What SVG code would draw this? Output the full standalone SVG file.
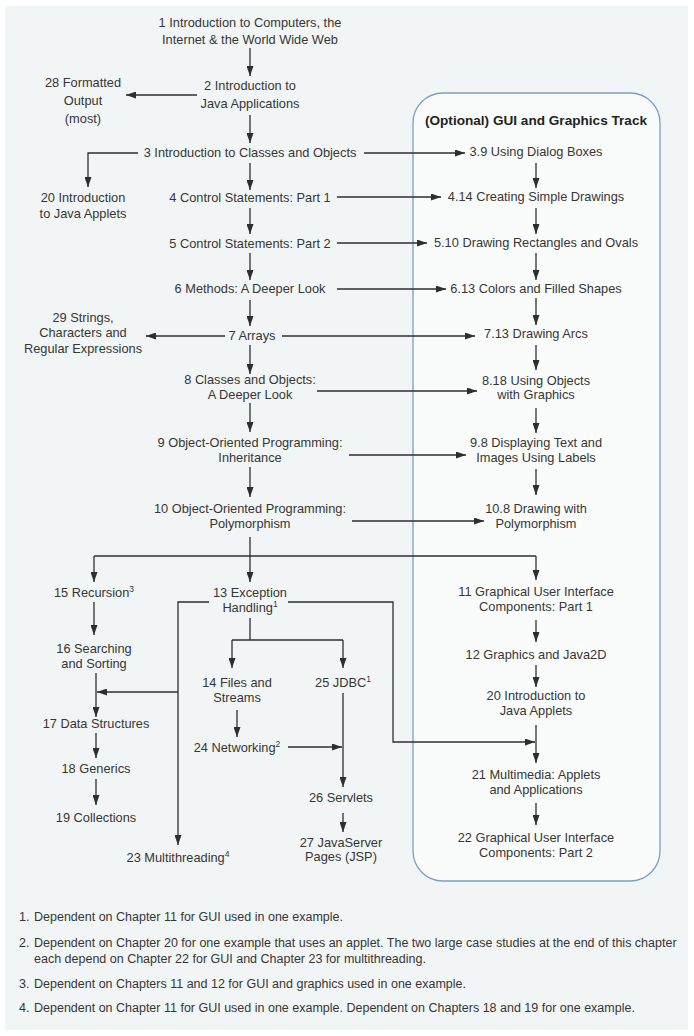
<svg xmlns="http://www.w3.org/2000/svg" width="694" height="1036" viewBox="0 0 694 1036">
<defs>
<style>
text{font-family:"Liberation Sans",Arial,sans-serif;font-size:12.8px;fill:#363636;text-anchor:middle}
.t{font-weight:bold;font-size:13.6px;fill:#222}
.fn{text-anchor:start;font-size:12.5px}
.sup{font-size:8.5px}
.c path{fill:none;stroke:#2e2e2e;stroke-width:1.3}
.a{marker-end:url(#ah)}
</style>
<marker id="ah" markerUnits="userSpaceOnUse" markerWidth="11" markerHeight="7" refX="10" refY="3.5" orient="auto">
<path d="M0,0 L10,3.5 L0,7 z" fill="#2e2e2e"/>
</marker>
</defs>
<rect x="0" y="0" width="694" height="1036" fill="#ffffff"/>
<rect x="5" y="6" width="683" height="1024" fill="#f2f5f5"/>
<g id="track">
<rect x="413" y="93" width="247" height="788" rx="30" fill="#fafcfc" stroke="#7c9dc9" stroke-width="1.3"/>
<text class="t" x="536" y="125">(Optional) GUI and Graphics Track</text>
</g>
<g class="c" id="connectors">
<path class="a" d="M250,48 V76"/>
<path class="a" d="M197,95 H126"/>
<path class="a" d="M250,115 V143"/>
<path class="a" d="M138,153 H88 V187"/>
<path class="a" d="M364,153 H465"/>
<path class="a" d="M250,163 V190"/>
<path class="a" d="M337,197 H441"/>
<path class="a" d="M250,208 V234"/>
<path class="a" d="M337,243 H427"/>
<path class="a" d="M250,253 V280"/>
<path class="a" d="M337,289 H446"/>
<path class="a" d="M250,300 V326"/>
<path class="a" d="M225,336 H146"/>
<path class="a" d="M282,336 H475"/>
<path class="a" d="M250,345 V374"/>
<path class="a" d="M317,391 H477"/>
<path class="a" d="M250,403 V432"/>
<path class="a" d="M349,455 H466"/>
<path class="a" d="M250,467 V497"/>
<path class="a" d="M352,521 H484"/>
<path class="a" d="M250,537 V582"/>
<path d="M94,556 H536"/>
<path class="a" d="M94,556 V582"/>
<path class="a" d="M536,556 V580"/>
<path class="a" d="M536,163 V188"/>
<path class="a" d="M536,208 V234"/>
<path class="a" d="M536,253 V280"/>
<path class="a" d="M536,298 V325"/>
<path class="a" d="M536,345 V370"/>
<path class="a" d="M536,408 V433"/>
<path class="a" d="M536,469 V495"/>
<path class="a" d="M536,620 V642"/>
<path class="a" d="M536,665 V687"/>
<path class="a" d="M536,725 V763"/>
<path class="a" d="M536,803 V825"/>
<path class="a" d="M94,602 V635"/>
<path class="a" d="M96,673 V717"/>
<path class="a" d="M96,733 V758"/>
<path class="a" d="M96,779 V805"/>
<path class="a" d="M209,602 H178 V845"/>
<path class="a" d="M178,692 H97"/>
<path class="a" d="M288,602 H393 V742 H535"/>
<path d="M250,618 V640 M232,640 H343"/>
<path class="a" d="M232,640 V668"/>
<path class="a" d="M343,640 V668"/>
<path class="a" d="M237,710 V737"/>
<path class="a" d="M288,747 H342"/>
<path class="a" d="M343,693 V787"/>
<path class="a" d="M343,813 V832"/>
</g>
<g id="n1"><text x="250" y="27">1 Introduction to Computers, the</text><text x="250" y="44">Internet &amp; the World Wide Web</text></g>
<g id="n2"><text x="250" y="90">2 Introduction to</text><text x="250" y="108">Java Applications</text></g>
<g id="n28"><text x="83" y="87">28 Formatted</text><text x="83" y="105">Output</text><text x="83" y="123">(most)</text></g>
<g id="n3"><text x="250" y="157">3 Introduction to Classes and Objects</text></g>
<g id="n20a"><text x="83" y="202">20 Introduction</text><text x="83" y="218">to Java Applets</text></g>
<g id="n4"><text x="250" y="202">4 Control Statements: Part 1</text></g>
<g id="n5"><text x="250" y="248">5 Control Statements: Part 2</text></g>
<g id="n6"><text x="250" y="293">6 Methods: A Deeper Look</text></g>
<g id="n7"><text x="252" y="340">7 Arrays</text></g>
<g id="n29"><text x="83" y="322">29 Strings,</text><text x="83" y="337">Characters and</text><text x="83" y="353">Regular Expressions</text></g>
<g id="n8"><text x="250" y="384">8 Classes and Objects:</text><text x="250" y="399">A Deeper Look</text></g>
<g id="n9"><text x="250" y="447">9 Object-Oriented Programming:</text><text x="250" y="462">Inheritance</text></g>
<g id="n10"><text x="250" y="513">10 Object-Oriented Programming:</text><text x="250" y="528">Polymorphism</text></g>
<g id="t39"><text x="536" y="156">3.9 Using Dialog Boxes</text></g>
<g id="t414"><text x="536" y="201">4.14 Creating Simple Drawings</text></g>
<g id="t510"><text x="536" y="247">5.10 Drawing Rectangles and Ovals</text></g>
<g id="t613"><text x="536" y="293">6.13 Colors and Filled Shapes</text></g>
<g id="t713"><text x="536" y="338">7.13 Drawing Arcs</text></g>
<g id="t818"><text x="536" y="385">8.18 Using Objects</text><text x="536" y="399">with Graphics</text></g>
<g id="t98"><text x="536" y="447">9.8 Displaying Text and</text><text x="536" y="462">Images Using Labels</text></g>
<g id="t108"><text x="536" y="513">10.8 Drawing with</text><text x="536" y="528">Polymorphism</text></g>
<g id="n11"><text x="536" y="596">11 Graphical User Interface</text><text x="536" y="611">Components: Part 1</text></g>
<g id="n12"><text x="536" y="659">12 Graphics and Java2D</text></g>
<g id="n20"><text x="536" y="700">20 Introduction to</text><text x="536" y="715">Java Applets</text></g>
<g id="n21"><text x="536" y="779">21 Multimedia: Applets</text><text x="536" y="794">and Applications</text></g>
<g id="n22"><text x="536" y="842">22 Graphical User Interface</text><text x="536" y="857">Components: Part 2</text></g>
<g id="n15"><text x="94" y="597">15 Recursion<tspan class="sup" dy="-5">3</tspan></text></g>
<g id="n16"><text x="94" y="653">16 Searching</text><text x="94" y="668">and Sorting</text></g>
<g id="n17"><text x="96" y="728">17 Data Structures</text></g>
<g id="n18"><text x="96" y="773">18 Generics</text></g>
<g id="n19"><text x="96" y="822">19 Collections</text></g>
<g id="n13"><text x="250" y="597">13 Exception</text><text x="250" y="612">Handling<tspan class="sup" dy="-5">1</tspan></text></g>
<g id="n23"><text x="178" y="862">23 Multithreading<tspan class="sup" dy="-5">4</tspan></text></g>
<g id="n14"><text x="237" y="687">14 Files and</text><text x="237" y="702">Streams</text></g>
<g id="n24"><text x="237" y="752">24 Networking<tspan class="sup" dy="-5">2</tspan></text></g>
<g id="n25"><text x="343" y="687">25 JDBC<tspan class="sup" dy="-5">1</tspan></text></g>
<g id="n26"><text x="341" y="802">26 Servlets</text></g>
<g id="n27"><text x="341" y="847">27 JavaServer</text><text x="341" y="861">Pages (JSP)</text></g>
<g id="footnotes">
<text class="fn" x="19" y="921">1.</text><text class="fn" x="34" y="921">Dependent on Chapter 11 for GUI used in one example.</text>
<text class="fn" x="19" y="947">2.</text><text class="fn" x="34" y="947">Dependent on Chapter 20 for one example that uses an applet. The two large case studies at the end of this chapter</text>
<text class="fn" x="34" y="963">each depend on Chapter 22 for GUI and Chapter 23 for multithreading.</text>
<text class="fn" x="19" y="988">3.</text><text class="fn" x="34" y="988">Dependent on Chapters 11 and 12 for GUI and graphics used in one example.</text>
<text class="fn" x="19" y="1012">4.</text><text class="fn" x="34" y="1012">Dependent on Chapter 11 for GUI used in one example. Dependent on Chapters 18 and 19 for one example.</text>
</g>
</svg>
